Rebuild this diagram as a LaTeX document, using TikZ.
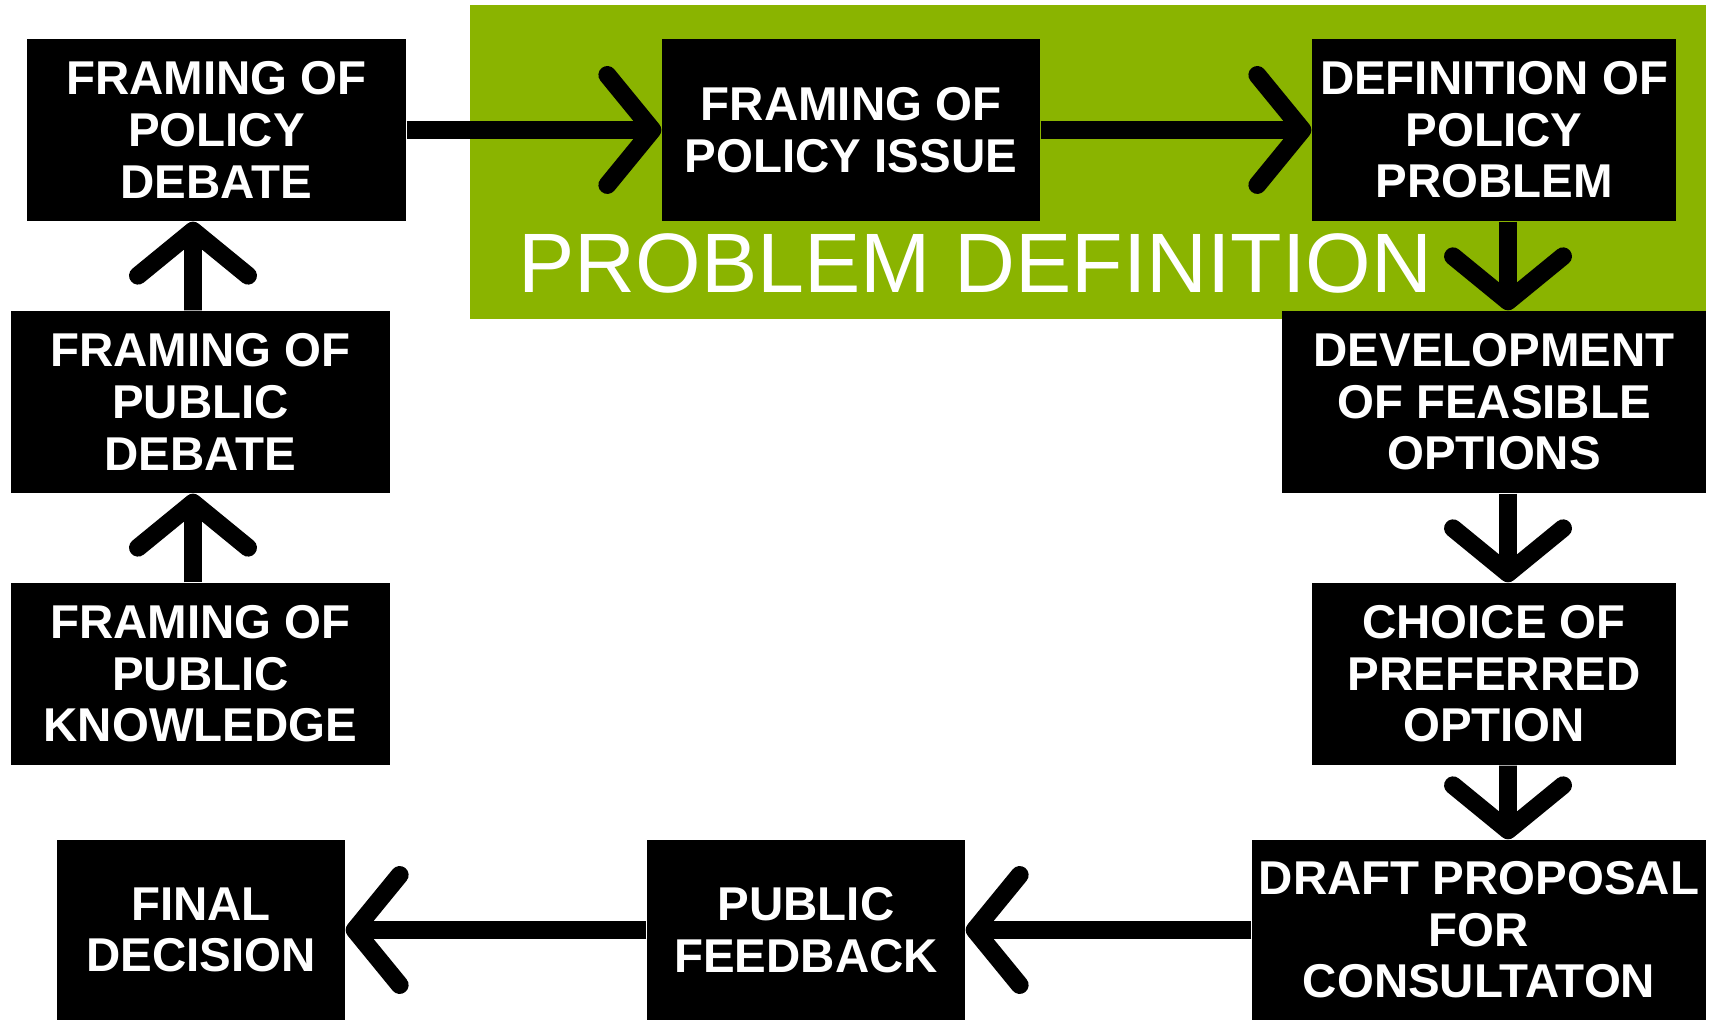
\documentclass[tikz,border=0pt]{standalone}
\usepackage{fontspec}
\setmainfont{Liberation Sans}
\usetikzlibrary{arrows.meta}
\definecolor{probgreen}{RGB}{138,180,0}
\begin{document}
\begin{tikzpicture}[
        stage/.style={fill=black, text=white, align=center, inner sep=0pt,
            font=\bfseries\fontsize{13.5}{14.7}\selectfont},
        flow/.style={line width=5.1pt,
            -{Straight Barb[length=0.45cm, width=1.1cm, line cap=round, line join=round]}}
    ]
        \useasboundingbox (0,0) rectangle (17.13,10.20);

        % problem definition band
        \fill[probgreen] (4.70,7.01) rectangle (17.06,10.145);
        \node[anchor=base, text=white, font=\fontsize{24}{28}\selectfont] (probDef) at (9.755,7.27) {PROBLEM DEFINITION};

        % left column
        \node[stage, minimum width=3.79cm, minimum height=1.82cm] (policyDebate) at (2.165,8.90) {FRAMING OF\\POLICY\\DEBATE};
        \node[stage, minimum width=3.79cm, minimum height=1.82cm] (publicDebate) at (2.005,6.18) {FRAMING OF\\PUBLIC\\DEBATE};
        \node[stage, minimum width=3.79cm, minimum height=1.82cm] (publicKnow) at (2.005,3.46) {FRAMING OF\\PUBLIC\\KNOWLEDGE};

        % top row
        \node[stage, minimum width=3.78cm, minimum height=1.82cm] (policyIssue) at (8.51,8.90) {FRAMING OF\\POLICY ISSUE};
        \node[stage, minimum width=3.64cm, minimum height=1.82cm] (policyProblem) at (14.94,8.90) {DEFINITION OF\\POLICY\\PROBLEM};

        % right column
        \node[stage, minimum width=4.24cm, minimum height=1.82cm] (feasible) at (14.94,6.18) {DEVELOPMENT\\OF FEASIBLE\\OPTIONS};
        \node[stage, minimum width=3.64cm, minimum height=1.82cm] (preferred) at (14.94,3.46) {CHOICE OF\\PREFERRED\\OPTION};

        % bottom row
        \node[stage, minimum width=4.54cm, minimum height=1.80cm] (draft) at (14.79,0.90) {DRAFT PROPOSAL\\FOR\\CONSULTATON};
        \node[stage, minimum width=3.18cm, minimum height=1.80cm] (feedback) at (8.06,0.90) {PUBLIC\\FEEDBACK};
        \node[stage, minimum width=2.88cm, minimum height=1.80cm] (decision) at (2.01,0.90) {FINAL\\DECISION};

        \draw[flow] ([xshift=-0.075cm]publicKnow.north) -- ([xshift=-0.075cm]publicDebate.south);
        \draw[flow] ([xshift=-0.075cm]publicDebate.north) -- ([xshift=-0.235cm]policyDebate.south);
        \draw[flow] (policyDebate.east) -- (policyIssue.west);
        \draw[flow] (policyIssue.east) -- (policyProblem.west);
        \draw[flow] ([xshift=0.14cm]policyProblem.south) -- ([xshift=0.14cm]feasible.north);
        \draw[flow] ([xshift=0.14cm]feasible.south) -- ([xshift=0.14cm]preferred.north);
        \draw[flow] ([xshift=0.14cm]preferred.south) -- ([xshift=0.29cm]draft.north);
        \draw[flow] (draft.west) -- (feedback.east);
        \draw[flow] (feedback.west) -- (decision.east);
    \end{tikzpicture}
\end{document}
